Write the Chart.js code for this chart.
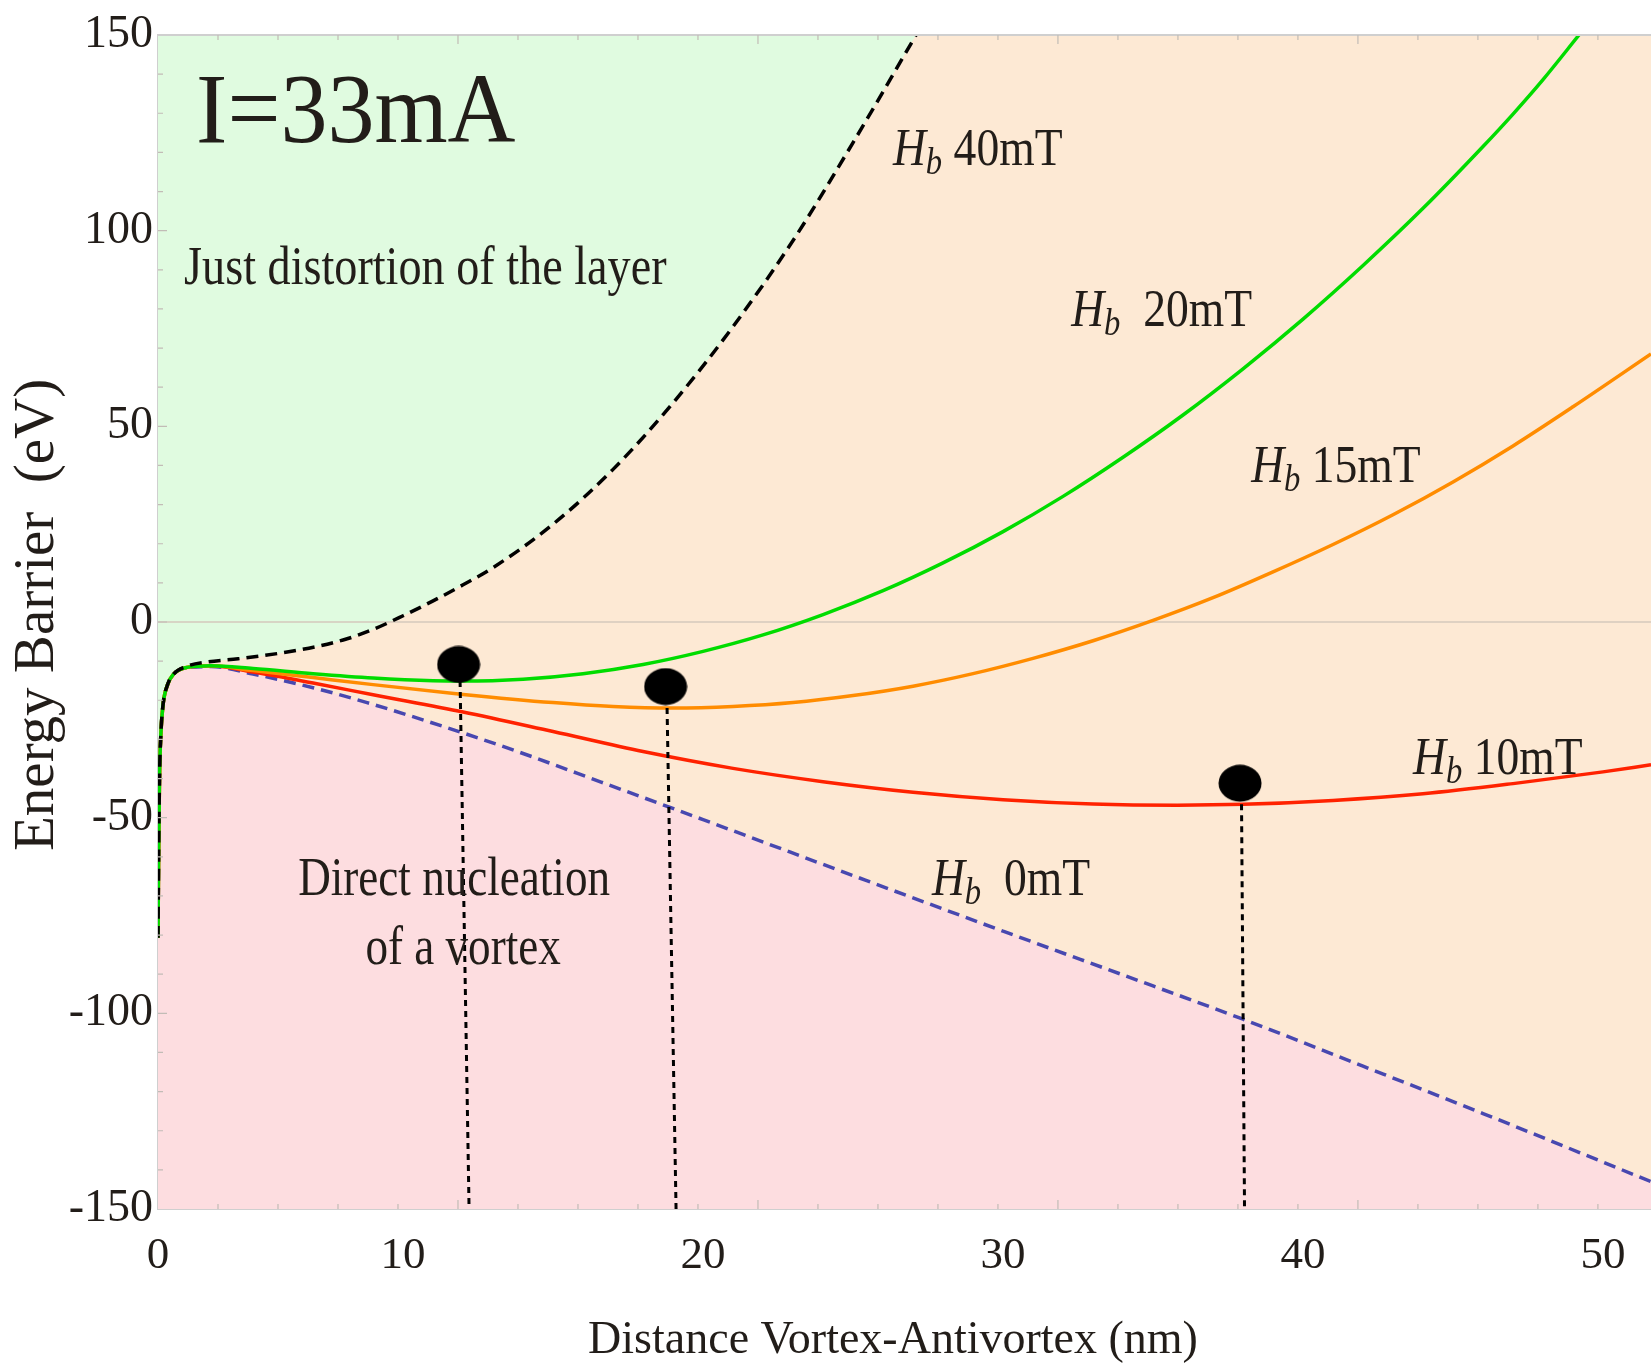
<!DOCTYPE html>
<html>
<head>
<meta charset="utf-8">
<title>Energy barrier vs vortex-antivortex distance</title>
<script src="https://cdn.jsdelivr.net/npm/chart.js@4.4.0/dist/chart.umd.min.js"></script>
<style>
  html, body { margin: 0; padding: 0; background: #fff; }
  canvas { display: block; }
</style>
</head>
<body>
<canvas id="chart" width="1651" height="1371"></canvas>
<script>
// plot range (the frame starts a bit after 0, the "0" label sits on it)
const xMin = 1.83;
const xMax = 51.6;
const yMin = -150;
const yMax = 150;

const xTickValues = [xMin, 10, 20, 30, 40, 50];
const xTickLabels = ['0', '10', '20', '30', '40', '50'];

// steep start shared by every curve
const commonX = [1.83, 1.85, 1.88, 1.93, 2.0, 2.15, 2.35];
const commonY = [-80.7, -60, -40, -28, -21, -16, -13.3];

// Hb 40mT (black dashed border of the green zone)
const hb40X = [2.8, 3.5, 4.5, 6.5, 8, 9, 10, 11, 12, 13, 15, 17, 19, 21, 23, 25, 27.1];
const hb40Y = [-11.3, -10.2, -9.4, -7.2, -4.6, -1.9, 1.6, 5.4, 9.5, 13.9, 25, 39, 56, 75.5, 97.5, 122.5, 150];

// Hb 20mT (green)
const hb20X = [2.8, 3.6, 5, 7, 9, 11, 12, 14, 16, 18, 20, 22, 24, 26, 28, 30, 32, 34, 36, 38, 40, 42, 44, 46, 47, 48, 49.2];
const hb20Y = [-11.6, -11.2, -11.9, -13.2, -14.3, -15.0, -15.1, -14.6, -13.2, -10.85, -7.5, -3.3, 1.9, 8.0, 15.1, 23.1, 32.1, 42.1, 52.9, 64.7, 77.4, 91.1, 105.7, 121.5, 129.8, 138.6, 150];

// Hb 15mT (orange)
const hb15X = [2.8, 3.6, 5, 7, 9, 12, 15, 17, 19, 21, 23, 25, 27, 29, 31, 33, 35, 37, 39, 41, 43, 45, 47, 49, 51.6];
const hb15Y = [-11.6, -11.2, -12.4, -14.2, -16.0, -18.5, -20.6, -21.6, -22.0, -21.6, -20.6, -18.8, -16.4, -13.2, -9.3, -4.8, 0.4, 6.2, 12.8, 19.8, 27.4, 35.8, 45, 55, 68.5];

// Hb 10mT (red)
const hb10X = [2.8, 3.6, 5, 7, 9, 12, 15, 18, 21, 24, 27, 30, 33, 35.8, 38, 41, 44, 47, 50, 51.6];
const hb10Y = [-11.6, -11.2, -12.8, -15.6, -18.6, -23.0, -28.0, -33.1, -37.4, -40.8, -43.5, -45.4, -46.5, -46.8, -46.6, -45.6, -43.9, -41.3, -38.3, -36.5];

// Hb 0mT (blue dashed border of the pink zone)
const hb0X = [2.8, 3.6, 5, 7, 8.8, 11.9, 14, 16.6, 20, 25, 30, 35, 38, 42, 46, 51.6];
const hb0Y = [-11.6, -11.4, -13.3, -16.8, -20.6, -28.1, -33.6, -40.9, -50.5, -64.8, -79.0, -93.0, -101.5, -113.5, -125.6, -143];

// minima of the 20, 15 and 10 mT curves, with their drop lines
const minX = [11.85, 18.75, 37.9];
const minY = [-10.85, -16.5, -41.2];
const dropTopX = [11.9, 18.8, 37.95];
const dropTopY = [-15.1, -22.0, -46.6];
const dropBottomX = [12.2, 19.1, 38.05];

const serif = "'Liberation Serif', 'Times New Roman', serif";
const ink = '#221d19';

const greenZone = '#e0fbe0';
const peachZone = '#fde9d4';
const pinkZone = '#fddde0';

function pts(xs, ys) {
    return xs.map((x, i) => ({ x: x, y: ys[i] }));
}

function curve(xs, ys) {
    return pts(commonX.concat(xs), commonY.concat(ys));
}

function makeDot(w, h) {
    const c = document.createElement('canvas');
    c.width = w;
    c.height = h;
    const g = c.getContext('2d');
    g.fillStyle = '#000';
    g.beginPath();
    g.ellipse(w / 2, h / 2, w / 2 - 0.5, h / 2 - 0.5, 0, 0, Math.PI * 2);
    g.fill();
    return c;
}

const dot = makeDot(44, 38);

const datasets = [
    {
        label: 'minima',
        data: pts(minX, minY),
        showLine: false,
        pointStyle: dot,
        pointRadius: 20,
        order: 0
    },
    {
        label: 'Hb 40mT',
        data: curve(hb40X, hb40Y),
        borderColor: '#000',
        borderWidth: 3.5,
        borderDash: [12, 7],
        backgroundColor: greenZone,
        fill: 'end',
        order: 2
    },
    {
        label: 'Hb 20mT',
        data: curve(hb20X, hb20Y),
        borderColor: '#00dc00',
        borderWidth: 3.5,
        fill: false,
        order: 3
    },
    {
        label: 'Hb 15mT',
        data: curve(hb15X, hb15Y),
        borderColor: '#ff8c00',
        borderWidth: 3.5,
        fill: false,
        order: 4
    },
    {
        label: 'Hb 10mT',
        data: curve(hb10X, hb10Y),
        borderColor: '#ff2200',
        borderWidth: 3.5,
        fill: false,
        order: 5
    },
    {
        label: 'Hb 0mT',
        data: curve(hb0X, hb0Y),
        borderColor: '#4848b0',
        borderWidth: 3.5,
        borderDash: [12, 7],
        backgroundColor: pinkZone,
        fill: 'start',
        order: 6
    },
    {
        label: 'zero',
        data: pts([xMin, xMax], [0, 0]),
        borderColor: '#d4c9bd',
        borderWidth: 1.5,
        fill: false,
        order: 7
    }
];

// dotted drop lines from each minimum to the axis
dropTopX.forEach((x, i) => {
    datasets.push({
        label: 'drop ' + i,
        data: pts([x, dropBottomX[i]], [dropTopY[i], yMin]),
        borderColor: '#000',
        borderWidth: 3,
        borderDash: [6, 5],
        fill: false,
        order: 1
    });
});

// text placed in data coordinates
const notes = [
    { text: 'I=33mA', x: 3.1, y: 122.7, size: 100, squeeze: 0.94, align: 'left' },
    { text: 'Just distortion of the layer', x: 2.7, y: 86.4, size: 55, squeeze: 0.84, align: 'left' },
    { text: 'Direct nucleation', x: 11.7, y: -69.8, size: 55, squeeze: 0.82, align: 'center' },
    { text: 'of a vortex', x: 12.0, y: -87.3, size: 55, squeeze: 0.82, align: 'center' }
];

const hbNotes = [
    { text: ' 40mT', x: 26.33, y: 116.8 },
    { text: '  20mT', x: 32.27, y: 75.6 },
    { text: ' 15mT', x: 38.27, y: 35.8 },
    { text: ' 10mT', x: 43.67, y: -38.8 },
    { text: '  0mT', x: 27.63, y: -69.8 }
];

function drawSquashed(ctx, text, x, y, size, squeeze, align, style) {
    ctx.save();
    ctx.font = (style ? style + ' ' : '') + size + 'px ' + serif;
    ctx.fillStyle = ink;
    ctx.textAlign = align || 'left';
    ctx.textBaseline = 'alphabetic';
    ctx.translate(x, y);
    ctx.scale(squeeze, 1);
    ctx.fillText(text, 0, 0);
    const w = ctx.measureText(text).width * squeeze;
    ctx.restore();
    return w;
}

function drawHb(ctx, text, x, y) {
    let cx = x;
    cx += drawSquashed(ctx, 'H', cx, y, 53, 0.86, 'left', 'italic');
    cx += drawSquashed(ctx, 'b', cx, y + 9, 38, 0.86, 'left', 'italic');
    drawSquashed(ctx, text, cx, y, 53, 0.86, 'left');
}

const decor = {
    id: 'decor',
    beforeDraw(chart) {
        const { ctx, chartArea: a } = chart;
        ctx.save();
        ctx.fillStyle = peachZone;
        ctx.fillRect(a.left, a.top, a.right - a.left, a.bottom - a.top);
        ctx.restore();
    },
    afterDraw(chart) {
        const { ctx, chartArea: a, scales: { x, y } } = chart;
        ctx.save();
        // top frame line
        ctx.strokeStyle = '#cfcfcf';
        ctx.lineWidth = 2;
        ctx.beginPath();
        ctx.moveTo(a.left, a.top);
        ctx.lineTo(a.right, a.top);
        ctx.stroke();

        // small inner tick marks of the frame
        ctx.strokeStyle = '#c2bcb6';
        ctx.lineWidth = 1.2;
        ctx.beginPath();
        for (let k = 1; xMin + 2 * k <= xMax; k++) {
            const px = x.getPixelForValue(xMin + 2 * k);
            const len = k % 5 === 0 ? 9 : 5;
            ctx.moveTo(px, a.bottom);
            ctx.lineTo(px, a.bottom - len);
            ctx.moveTo(px, a.top);
            ctx.lineTo(px, a.top + len);
        }
        for (let v = yMin + 10; v < yMax; v += 10) {
            const py = y.getPixelForValue(v);
            const len = v % 50 === 0 ? 9 : 5;
            ctx.moveTo(a.left, py);
            ctx.lineTo(a.left + len, py);
        }
        ctx.stroke();
        ctx.restore();

        notes.forEach((n) => {
            drawSquashed(ctx, n.text, x.getPixelForValue(n.x), y.getPixelForValue(n.y),
                n.size, n.squeeze, n.align);
        });
        hbNotes.forEach((n) => {
            drawHb(ctx, n.text, x.getPixelForValue(n.x), y.getPixelForValue(n.y));
        });
    }
};

new Chart(document.getElementById('chart'), {
    type: 'line',
    data: { datasets: datasets },
    options: {
        responsive: false,
        devicePixelRatio: 1,
        animation: false,
        events: [],
        layout: {
            autoPadding: false,
            padding: { top: 35, right: 0, bottom: 0, left: 0 }
        },
        elements: {
            point: { radius: 0 },
            line: { cubicInterpolationMode: 'monotone' }
        },
        plugins: {
            legend: { display: false },
            tooltip: { enabled: false },
            filler: { drawTime: 'beforeDatasetsDraw' }
        },
        scales: {
            x: {
                type: 'linear',
                min: xMin,
                max: xMax,
                afterBuildTicks: (scale) => {
                    scale.ticks = xTickValues.map((v) => ({ value: v }));
                },
                afterFit: (scale) => {
                    scale.height = 162;
                    scale.paddingLeft = 0;
                    scale.paddingRight = 0;
                },
                ticks: {
                    autoSkip: false,
                    maxRotation: 0,
                    padding: 20,
                    color: ink,
                    font: { family: serif, size: 45 },
                    callback: (value, index) => xTickLabels[index]
                },
                grid: { color: 'transparent', drawTicks: false },
                border: { color: '#cfcfcf', width: 2 },
                title: {
                    display: true,
                    // trailing spaces nudge the centred title a little to the left
                    text: 'Distance Vortex-Antivortex (nm)  ',
                    color: ink,
                    font: { family: serif, size: 46 },
                    padding: { top: 0, bottom: 2 }
                }
            },
            y: {
                min: yMin,
                max: yMax,
                afterFit: (scale) => { scale.width = 158; },
                ticks: {
                    stepSize: 50,
                    padding: 5,
                    color: ink,
                    font: { family: serif, size: 46 }
                },
                grid: { color: 'transparent', drawTicks: false },
                border: { color: '#cfcfcf', width: 2 },
                title: {
                    display: true,
                    text: ' Energy Barrier  (eV)',
                    color: ink,
                    font: { family: serif, size: 57 },
                    padding: { top: 4, bottom: 0 }
                }
            }
        }
    },
    plugins: [decor]
});
</script>
</body>
</html>
